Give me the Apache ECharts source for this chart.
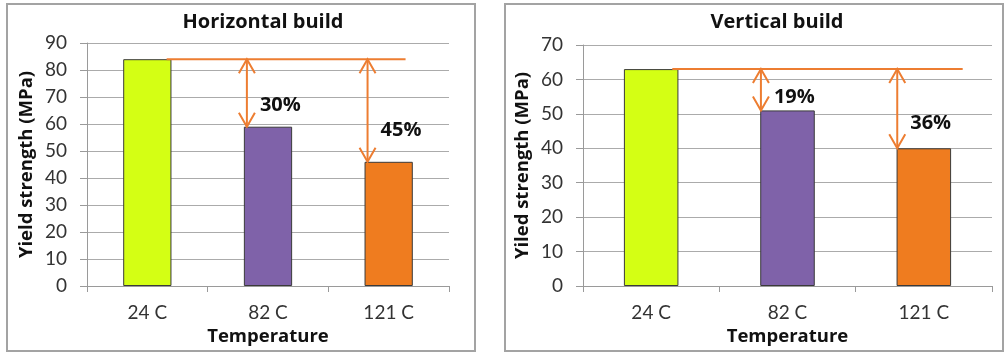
<!DOCTYPE html>
<html><head><meta charset="utf-8">
<script src="https://cdn.jsdelivr.net/npm/echarts@6/dist/echarts.min.js"></script>
<style>html,body{margin:0;padding:0;background:#fff}#c{width:1005px;height:353px}</style>
</head><body><div id="c"></div>
<script>
// ---- data ----
const categories = ['24 C', '82 C', '121 C'];
const horizontalValues = [84, 59, 46];
const verticalValues = [63, 51, 40];
const horizontalDrops = ['30%', '45%'];
const verticalDrops = ['19%', '36%'];
const horizontalTitle = 'Horizontal build';
const verticalTitle = 'Vertical build';
const horizontalYName = 'Yield strength (MPa)';
const verticalYName = 'Yiled strength (MPa)';
const xName = 'Temperature';
const horizontalMax = 90;
const verticalMax = 70;
const tickStep = 10;

// ---- style ----
const FONT = 'Lato';
const BOLD_FONT = '"Open Sans"';
const barColors = ['#D4FF14', '#7F62A9', '#EF7C1F'];
const ARROW = '#ED7D31';
const GRID_C = '#ababab';
const TEXT_C = '#333333';

const arrowStyle = { stroke: ARROW, lineWidth: 2, fill: null };

function barData(values) {
  return values.map((v, i) => ({ value: v, itemStyle: { color: barColors[i] } }));
}
function arrowData(values) {
  return values.slice(1).map((v, i) => [i + 1, values[0], v]);
}
function refRender(startOff, endOff) {
  return function (params, api) {
    const bw = api.size([1, 0])[0];
    const a = api.coord([api.value(0), api.value(2)]);
    const b = api.coord([api.value(1), api.value(2)]);
    return { type: 'line', shape: { x1: a[0] + startOff * bw, y1: a[1], x2: b[0] + endOff * bw, y2: b[1] }, style: arrowStyle };
  };
}
function arrowRender(drops, xOff) {
  return function (params, api) {
    const cat = api.value(0);
    const bw = api.size([1, 0])[0];
    const top = api.coord([cat, api.value(1)]);
    const bot = api.coord([cat, api.value(2)]);
    const x = top[0] + xOff * bw;
    const y1 = top[1], y2 = bot[1];
    const hl = 14, hw = 8;
    return {
      type: 'group', children: [
        { type: 'line', shape: { x1: x, y1: y1, x2: x, y2: y2 }, style: arrowStyle },
        { type: 'polyline', shape: { points: [[x - hw, y1 + hl], [x, y1], [x + hw, y1 + hl]] }, style: arrowStyle },
        { type: 'polyline', shape: { points: [[x - hw, y2 - hl], [x, y2], [x + hw, y2 - hl]] }, style: arrowStyle },
        { type: 'text', x: x + 13, y: y1 + 0.69 * (y2 - y1),
          style: { text: drops[params.dataIndex], font: 'bold 20px ' + BOLD_FONT, fill: '#111', align: 'left', verticalAlign: 'middle' } }
      ]
    };
  };
}
function xAxisCfg(idx) {
  return {
    type: 'category', gridIndex: idx, data: categories,
    axisLine: { lineStyle: { color: '#9a9a9a', width: 1 } },
    axisTick: { show: true, length: 6, lineStyle: { color: '#9a9a9a' } },
    axisLabel: { fontFamily: FONT, fontSize: 19, color: TEXT_C, margin: 17 },
    name: xName, nameLocation: 'middle', nameGap: 40,
    nameTextStyle: { fontFamily: 'Open Sans', fontWeight: 'bold', fontSize: 18.5, color: '#111' }
  };
}
function yAxisCfg(idx, max, name) {
  return {
    type: 'value', gridIndex: idx, min: 0, max: max, interval: tickStep,
    axisLine: { show: true, lineStyle: { color: '#9a9a9a', width: 1 } },
    axisTick: { show: true, length: 7, lineStyle: { color: '#9a9a9a' } },
    axisLabel: { fontFamily: FONT, fontSize: 19, color: TEXT_C, margin: 20 },
    splitLine: { lineStyle: { color: GRID_C, width: 1 } },
    name: name, nameLocation: 'middle', nameGap: 51, nameRotate: 90,
    nameTextStyle: { fontFamily: 'Open Sans', fontWeight: 'bold', fontSize: 18.5, color: '#111' }
  };
}

const chart = echarts.init(document.getElementById('c'), null, { renderer: 'canvas' });
chart.setOption({
  animation: false,
  backgroundColor: '#fff',
  graphic: [
    { type: 'rect', shape: { x: 7, y: 4, width: 468, height: 347 }, style: { fill: null, stroke: '#a3a3a3', lineWidth: 2 }, z: -1 },
    { type: 'rect', shape: { x: 505, y: 4, width: 498, height: 347 }, style: { fill: null, stroke: '#a3a3a3', lineWidth: 2 }, z: -1 },
    { type: 'text', x: 263, y: 22, style: { text: horizontalTitle, font: 'bold 20px ' + BOLD_FONT, fill: '#111', align: 'center', verticalAlign: 'middle' } },
    { type: 'text', x: 777, y: 22, style: { text: verticalTitle, font: 'bold 20px ' + BOLD_FONT, fill: '#111', align: 'center', verticalAlign: 'middle' } }
  ],
  grid: [
    { left: 87, top: 43, width: 362, height: 243 },
    { left: 583, top: 45, width: 409, height: 241 }
  ],
  xAxis: [xAxisCfg(0), xAxisCfg(1)],
  yAxis: [yAxisCfg(0, horizontalMax, horizontalYName), yAxisCfg(1, verticalMax, verticalYName)],
  series: [
    { type: 'bar', xAxisIndex: 0, yAxisIndex: 0, barWidth: '40%', data: barData(horizontalValues),
      itemStyle: { borderColor: '#3a3a3a', borderWidth: 1 } },
    { type: 'bar', xAxisIndex: 1, yAxisIndex: 1, barWidth: '40%', data: barData(verticalValues),
      itemStyle: { borderColor: '#3a3a3a', borderWidth: 1 } },
    { type: 'custom', xAxisIndex: 0, yAxisIndex: 0, z: 5, encode: { x: [0, 1], y: 2 },
      data: [[0, 2, horizontalValues[0]]], renderItem: refRender(0.16, 0.14) },
    { type: 'custom', xAxisIndex: 1, yAxisIndex: 1, z: 5, encode: { x: [0, 1], y: 2 },
      data: [[0, 2, verticalValues[0]]], renderItem: refRender(0.155, 0.285) },
    { type: 'custom', xAxisIndex: 0, yAxisIndex: 0, z: 6, encode: { x: 0, y: [1, 2] },
      data: arrowData(horizontalValues), renderItem: arrowRender(horizontalDrops, -0.175) },
    { type: 'custom', xAxisIndex: 1, yAxisIndex: 1, z: 6, encode: { x: 0, y: [1, 2] },
      data: arrowData(verticalValues), renderItem: arrowRender(verticalDrops, -0.195) }
  ]
});
</script></body></html>
